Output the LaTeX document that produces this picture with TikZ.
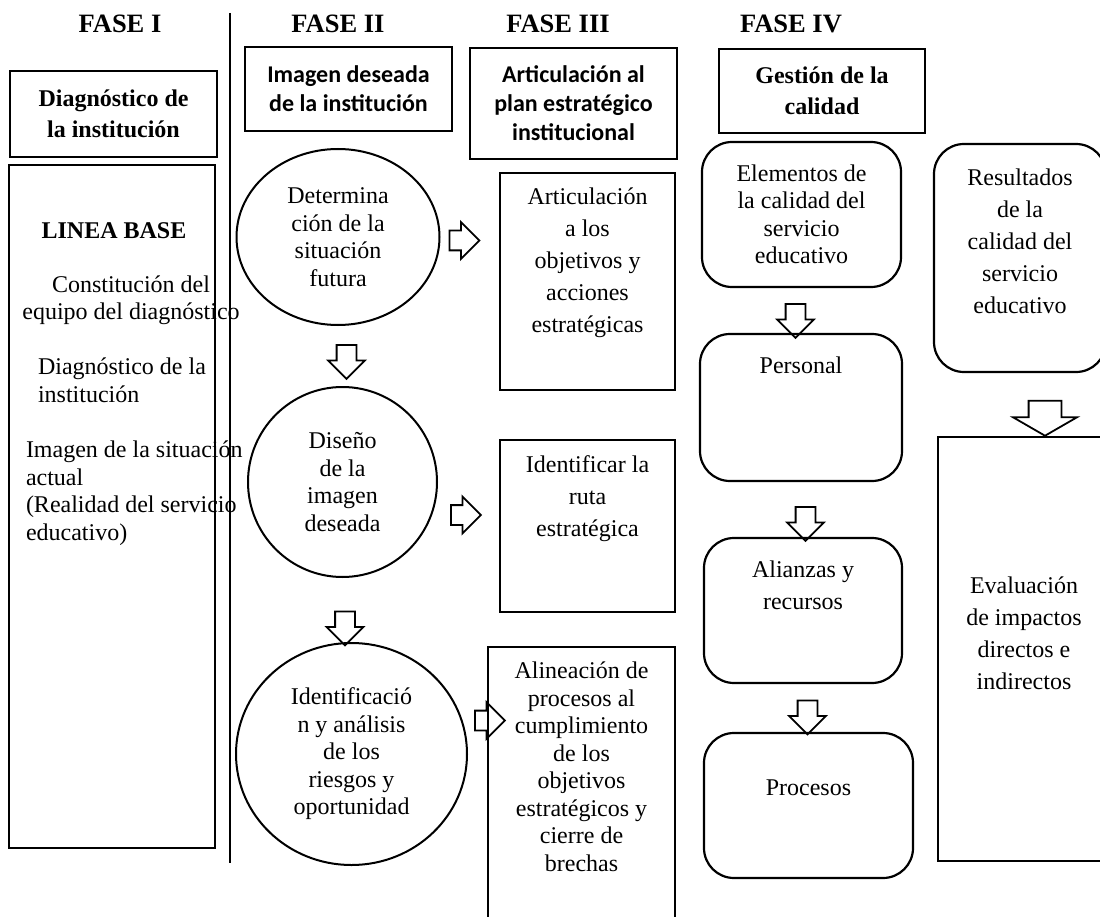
\documentclass[tikz,border=0pt]{standalone}
\usepackage{fontspec}
\setmainfont{Liberation Serif}
\newfontfamily\calibri{Carlito}
\usetikzlibrary{shapes.geometric,shapes.arrows,positioning}

\begin{document}
\begin{tikzpicture}[
        x=1pt, y=-1pt,
        every node/.style={inner sep=0pt, outer sep=0pt},
        fase/.style={
            anchor=base,
            font=\fontsize{26.5}{30}\selectfont\bfseries
        },
        caja/.style={
            rectangle,
            draw,
            line width=2.2pt,
            align=center,
            font=\fontsize{24}{27.5}\selectfont
        },
        cabeza/.style={
            caja,
            font=\fontsize{24}{31}\selectfont\bfseries
        },
        cabezasans/.style={
            caja,
            font=\fontsize{24}{29}\selectfont\calibri\bfseries
        },
        redonda/.style={
            caja,
            rounded corners=30pt
        },
        ovalo/.style={
            ellipse,
            draw,
            line width=2pt,
            align=center,
            font=\fontsize{24}{27.5}\selectfont
        },
        texto/.style={
            align=center,
            font=\fontsize{24}{27.5}\selectfont
        },
        espaciado/.style={
            font=\fontsize{24}{32}\selectfont
        },
        flecha/.style={
            single arrow,
            draw,
            line width=1.8pt,
            inner xsep=0pt,
            inner ysep=9pt,
            minimum width=0pt,
            minimum height=34pt,
            single arrow head extend=8.5pt,
            single arrow tip angle=90,
            single arrow head indent=0pt
        }
    ]

    \clip (0,0) rectangle (1100,917);

    % Titulos de las fases
    \node[fase] (f1) at (120,33) {FASE I};
    \node[fase] (f2) at (338,33) {FASE II};
    \node[fase] (f3) at (558,33) {FASE III};
    \node[fase] (f4) at (791,33) {FASE IV};

    % Linea que separa la fase I
    \coordinate (sep1) at (230,13);
    \coordinate (sep2) at (230,863);
    \draw[line width=2pt] (sep1) -- (sep2);

    % Cajas de encabezado
    \node[cabeza, minimum width=207pt, minimum height=86pt] (diag) at (113.5,114) {Diagnóstico de\\la institución};
    \node[cabezasans, minimum width=207pt, minimum height=84pt] (imag) at (348.5,89) {Imagen deseada\\de la institución};
    \node[cabezasans, minimum width=207pt, minimum height=111pt] (plan) at (573.5,103.5) {Articulación al\\plan estratégico\\institucional};
    \node[cabeza, minimum width=206pt, minimum height=84pt] (gest) at (822,91) {Gestión de la\\calidad};

    % Fase I: linea base
    \node[caja, minimum width=206pt, minimum height=683pt] (base) at (112,506.5) {};
    \node[texto, font=\fontsize{24}{27.5}\selectfont\bfseries] (lbt) at (114,231) {LINEA BASE};
    \node[texto] (lb1) at (131,300) {Constitución del\\equipo del diagnóstico};
    \node[texto, align=left, anchor=north west] (lb2) at (38,358) {Diagnóstico de la\\institución};
    \node[texto, align=left, anchor=north west] (lb3) at (26,441) {Imagen de la situación\\actual\\(Realidad del servicio\\educativo)};

    % Fase II: circulos
    \node[ovalo, minimum width=203pt, minimum height=176pt] (sit) at (338,237) {Determina\\ción de la\\situación\\futura};
    \node[flecha, rotate=-90] (fs1) at (346.5,357) {};
    \node[ovalo, minimum width=189pt, minimum height=190pt] (dis) at (342.5,482) {Diseño\\de la\\imagen\\deseada};
    \node[flecha, rotate=-90] (fs2) at (345,623.5) {};
    \node[ovalo, minimum width=231pt, minimum height=222pt] (rie) at (351.5,754) {Identificació\\n y análisis\\de los\\riesgos y\\oportunidad};

    % Flechas hacia la fase III
    \node[flecha, minimum height=30pt] (fd1) at (459.5,240.5) {};
    \node[flecha, minimum height=30pt] (fd2) at (461,515) {};
    \node[flecha, minimum height=30pt] (fd3) at (485,720.5) {};

    % Fase III: articulacion
    \node[caja, minimum width=175pt, minimum height=217pt] (art) at (587.5,281.5) {};
    \node[texto, espaciado, below=15pt of art.north] (artt) {Articulación\\a los\\objetivos y\\acciones\\estratégicas};
    \node[caja, minimum width=175pt, minimum height=172pt] (ruta) at (587.5,526) {};
    \node[texto, espaciado, below=16pt of ruta.north] (rutat) {Identificar la\\ruta\\estratégica};
    \node[caja, minimum width=187pt, minimum height=278pt] (alin) at (581.5,786) {};
    \node[texto, below=15pt of alin.north] (alint) {Alineación de\\procesos al\\cumplimiento\\de los\\objetivos\\estratégicos y\\cierre de\\brechas};

    % Fase IV: elementos de la calidad
    \node[redonda, minimum width=199pt, minimum height=145pt] (elem) at (801.5,214.5) {Elementos de\\la calidad del\\servicio\\educativo};
    \node[flecha, rotate=-90] (fc1) at (795.5,316) {};
    \node[redonda, minimum width=202pt, minimum height=147pt] (pers) at (801,407.5) {};
    \node[texto, below=23pt of pers.north] (perst) {Personal};
    \node[flecha, rotate=-90] (fc2) at (805.5,519) {};
    \node[redonda, minimum width=198pt, minimum height=145pt] (ali) at (803,610.5) {};
    \node[texto, espaciado, below=23pt of ali.north] (alit) {Alianzas y\\recursos};
    \node[flecha, rotate=-90] (fc3) at (807.5,712.5) {};
    \node[redonda, minimum width=209pt, minimum height=145pt] (proc) at (808.5,805.5) {};
    \node[texto, below=47pt of proc.north] (proct) {Procesos};

    % Resultados y evaluacion
    \node[redonda, minimum width=172pt, minimum height=228pt] (res) at (1020,258) {};
    \node[texto, espaciado, below=25pt of res.north] (rest) {Resultados\\de la\\calidad del\\servicio\\educativo};
    \node[flecha, rotate=-90, inner ysep=15.5pt, minimum height=35pt, single arrow head extend=15.5pt, single arrow tip angle=120] (fc4) at (1045,413.5) {};
    \node[caja, minimum width=172pt, minimum height=424pt] (eva) at (1024,649) {};
    \node[texto, espaciado, below=140pt of eva.north] (evat) {Evaluación\\de impactos\\directos e\\indirectos};

\end{tikzpicture}
\end{document}
